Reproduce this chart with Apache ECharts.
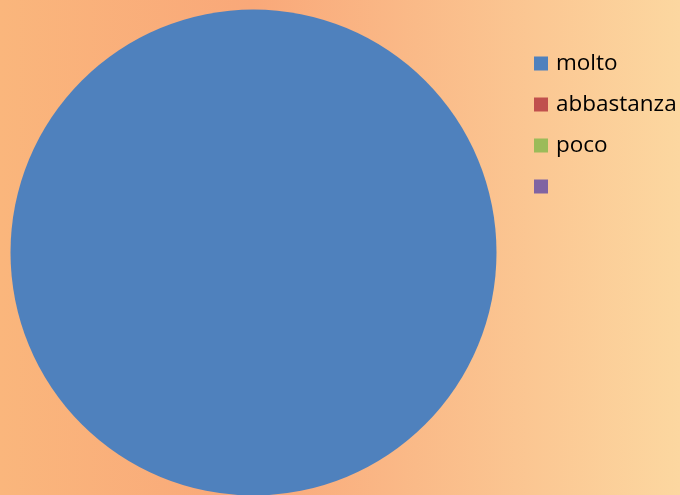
<!DOCTYPE html>
<html>
<head>
<meta charset="utf-8">
<script src="https://cdn.jsdelivr.net/npm/echarts@6/dist/echarts.min.js"></script>
<style>
html, body { margin: 0; padding: 0; }
#chart { width: 680px; height: 495px; }
</style>
</head>
<body>
<div id="chart"></div>
<script>
// risposte (the fourth category has no label)
const categories = ['molto', 'abbastanza', 'poco', ' '];
const values = [100, 0, 0, 0];
const colors = ['#4F81BD', '#C0504D', '#9BBB59', '#8064A2'];

const chart = echarts.init(document.getElementById('chart'));
chart.setOption({
	backgroundColor: new echarts.graphic.LinearGradient(0, 0, 1, 0, [
		{ offset: 0, color: '#FAB67C' },
		{ offset: 0.37, color: '#F9A879' },
		{ offset: 1, color: '#FCD7A0' }
	]),
	animation: false,
	legend: {
		orient: 'vertical',
		left: 529,
		top: 47,
		itemWidth: 14,
		itemHeight: 14,
		itemGap: 18,
		icon: 'rect',
		textStyle: {
			fontFamily: 'Open Sans',
			fontSize: 22.5,
			padding: [0, 0, 0, 3],
			color: '#000'
		},
		data: categories
	},
	series: [{
		type: 'pie',
		center: [253.5, 252.5],
		radius: 243,
		startAngle: 90,
		label: { show: false },
		labelLine: { show: false },
		emphasis: { disabled: true },
		itemStyle: { borderWidth: 0 },
		data: categories.map((name, i) => ({
			name: name,
			value: values[i],
			itemStyle: { color: colors[i] }
		}))
	}]
});
</script>
</body>
</html>
